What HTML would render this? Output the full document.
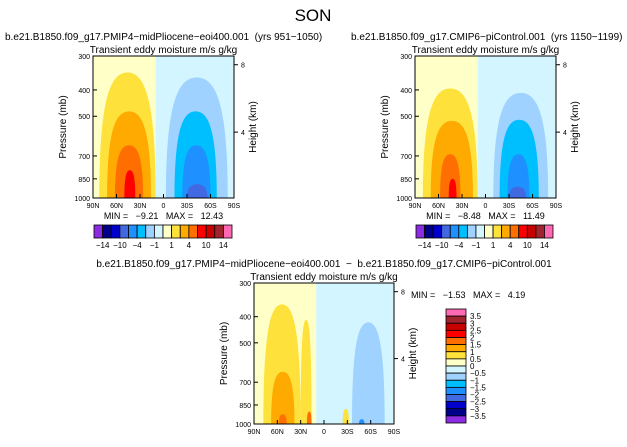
<!DOCTYPE html>
<html><head><meta charset="utf-8"><style>
body{margin:0;background:#fff;width:627px;height:442px;overflow:hidden}
svg text{font-family:"Liberation Sans",sans-serif;fill:#000;white-space:pre}
</style></head><body>
<svg id="s" width="627" height="442" xmlns="http://www.w3.org/2000/svg">
<text x="313" y="21" font-size="17" text-anchor="middle">SON</text>
</svg>
<script>
const colors=["#8b2be2","#00008b","#0000cd","#4169e1","#1e90ff","#00bfff","#a0d2ff","#d2f5ff","#ffffc8","#ffe13c","#ffaa00","#ff6e00","#ff0000","#c80000","#a0232d","#ff69b4"];
const pTicks=[300,400,500,700,850,1000];
const latTicks=["90N","60N","30N","0","30S","60S","90S"];
const hTicks=[8,4];
const bar1Labels=["-14","-10","-4","-1","1","4","10","14"];
const bar3Labels=["3.5","3","2.5","2","1.5","1","0.5","0","-0.5","-1","-1.5","-2","-2.5","-3","-3.5"];
// blobs: [northLat, southLat, topPressure, colorIndex]
const blobs1=[[82,10,345,9],[72,16,480,10],[62,26,640,11],[50,36,790,12],[-3,-82,360,6],[-14,-68,480,5],[-24,-60,640,4],[-30,-56,890,3]];
const blobs2=[[80,10,395,9],[70,16,520,10],[58,32,690,11],[47,37,850,12],[-10,-80,410,6],[-18,-68,515,5],[-28,-56,690,4],[-30,-52,910,3]];
const blobs3=[[78,30,360,9],[30,16,410,9],[68,38,640,10],[58,48,920,11],[22,16,900,11],[-36,-78,420,6],[-24,-32,880,9],[-45,-52,960,4]];
const split=[10,10,10];
const S=document.getElementById('s');
const NS='http://www.w3.org/2000/svg';
function mk(t,a,txt){const e=document.createElementNS(NS,t);for(const k in a)e.setAttribute(k,a[k]);if(txt!==undefined)e.textContent=txt;S.appendChild(e);return e;}
function panel(px,py,w,h,blobs,sp,name,mn,mx){
  const X=lat=>px+(90-lat)/180*w;
  const Y=p=>py+Math.log(p/300)/Math.log(1000/300)*h;
  let r=mk('rect',{x:px,y:py,width:X(sp)-px,height:h,fill:colors[8]});
  
  r=mk('rect',{x:X(sp),y:py,width:px+w-X(sp),height:h,fill:colors[7]});
  
  blobs.forEach((b,i)=>{
    const xl=X(b[0]),xr=X(b[1]),yt=Y(b[2]),yb=Y(1000),xc=(xl+xr)/2,hh=yb-yt,bw=xr-xl;
    const d=`M${xl},${yb} C${xl},${yt+hh*0.2} ${xc-bw*0.3},${yt} ${xc},${yt} C${xc+bw*0.3},${yt} ${xr},${yt+hh*0.2} ${xr},${yb} Z`;
    const e=mk('path',{d:d,fill:colors[b[3]]});
    
    
  });
  r=mk('rect',{x:px,y:py,width:w,height:h,fill:'none',stroke:'#000','stroke-width':1});
  
  pTicks.forEach(p=>{const y=Y(p);mk('line',{x1:px,x2:px+4,y1:y,y2:y,stroke:'#000'});
    const t=mk('text',{x:px-3,y:y+3,'font-size':7,'text-anchor':'end'},p);
    });
  latTicks.forEach((l,i)=>{const x=px+i*w/6;mk('line',{x1:x,x2:x,y1:py+h,y2:py+h-4,stroke:'#000'});
    const t=mk('text',{x:x,y:py+h+10,'font-size':7,'text-anchor':'middle'},l);
    });
  hTicks.forEach(k=>{const p=1013*Math.exp(-k/7);const y=Y(p);mk('line',{x1:px+w,x2:px+w+4,y1:y,y2:y,stroke:'#000'});
    const t=mk('text',{x:px+w+7,y:y+3,'font-size':7},k);
    });
  let t=mk('text',{x:px+w/2,y:py-3,'font-size':10,'text-anchor':'middle'},'Transient eddy moisture m/s g/kg');
  
  t=mk('text',{x:0,y:0,'font-size':10,'text-anchor':'middle',transform:`translate(${px-27},${py+h/2}) rotate(-90)`},'Pressure (mb)');
  
  t=mk('text',{x:0,y:0,'font-size':10,'text-anchor':'middle',transform:`translate(${px+w+22},${py+h/2}) rotate(-90)`},'Height (km)');
  
  if(mn){t=mk('text',{x:px+w/2,y:py+h+21,'font-size':9,'text-anchor':'middle'},'MIN =   '+mn+'   MAX =   '+mx);
    }
}
function hbar(x,y,w,h,name){
  const bw=w/16;
  colors.forEach((c,i)=>{const r=mk('rect',{x:x+i*bw,y:y,width:bw,height:h,fill:c,stroke:'#000','stroke-width':0.8});
    });
  bar1Labels.forEach((l,i)=>{const t=mk('text',{x:x+(2*i+1)*bw,y:y+h+10,'font-size':8,'text-anchor':'middle'},l.replace('-','\u2212'));
    });
}
panel(93,56,141,142,blobs1,split[0],'panel-pliocene','\u22129.21','12.43');
panel(415,56,141,142,blobs2,split[1],'panel-picontrol','\u22128.48','11.49');
panel(254,283,140,141,blobs3,split[2],'panel-difference',null,null);
hbar(94,225,138,13,'colorbar-pliocene');
hbar(416,225,137,13,'colorbar-picontrol');
(function(){const x=446,y=309,w=20,h=114,bh=h/16;
  colors.slice().reverse().forEach((c,i)=>{const r=mk('rect',{x:x,y:y+i*bh,width:w,height:bh,fill:c,stroke:'#000','stroke-width':0.8});
    });
  bar3Labels.forEach((l,i)=>{const t=mk('text',{x:x+24,y:y+(i+1)*bh+3,'font-size':8},l.replace('-','\u2212'));
    });
})();
let t;
t=mk('text',{x:5,y:40,'font-size':10},'b.e21.B1850.f09_g17.PMIP4\u2212midPliocene\u2212eoi400.001  (yrs 951\u22121050)');

t=mk('text',{x:351,y:40,'font-size':10},'b.e21.B1850.f09_g17.CMIP6\u2212piControl.001  (yrs 1150\u22121199)');

t=mk('text',{x:324,y:267,'font-size':10,'text-anchor':'middle'},'b.e21.B1850.f09_g17.PMIP4\u2212midPliocene\u2212eoi400.001  \u2212  b.e21.B1850.f09_g17.CMIP6\u2212piControl.001');

t=mk('text',{x:411,y:298,'font-size':9},'MIN =   \u22121.53   MAX =   4.19');

</script>
</body></html>
